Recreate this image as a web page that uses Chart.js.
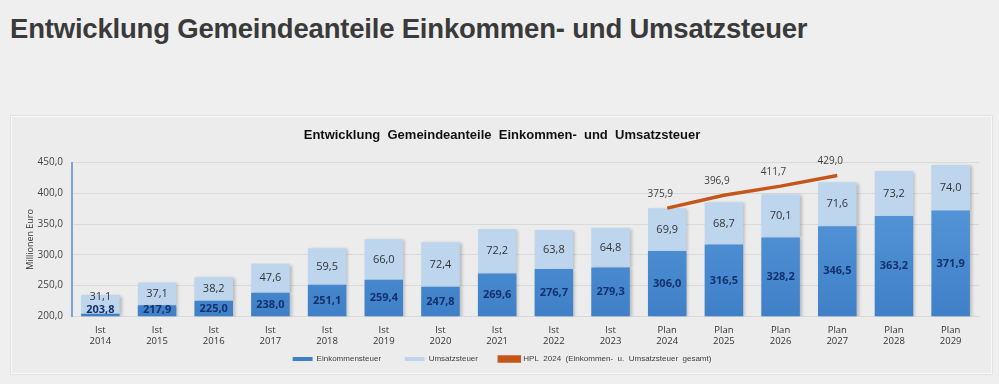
<!DOCTYPE html>
<html>
<head>
<meta charset="utf-8">
<script src="https://cdn.jsdelivr.net/npm/chart.js@4"></script>
<style>
  body { margin: 0; background: #efefef; width: 999px; height: 384px; overflow: hidden; position: relative; font-family: "Liberation Sans", Arial, sans-serif; }
  h1 { position: absolute; left: 10px; top: 13px; margin: 0; font-size: 27.5px; font-weight: bold; color: #3a3a3a; letter-spacing: -0.2px; }
  #panel { position: absolute; left: 11px; top: 116px; width: 979px; height: 256px; background: #ececec; border: 1px solid #f8f8f8; box-shadow: 0 0 0 1px #e2e2e2; }
</style>
</head>
<body>
<h1>Entwicklung Gemeindeanteile Einkommen- und Umsatzsteuer</h1>
<div id="panel"><canvas id="myChart" width="979" height="256"></canvas></div>
<script>
// Werte (Mio. Euro)
var categories = [['Ist','2014'],['Ist','2015'],['Ist','2016'],['Ist','2017'],['Ist','2018'],['Ist','2019'],['Ist','2020'],['Ist','2021'],['Ist','2022'],['Ist','2023'],['Plan','2024'],['Plan','2025'],['Plan','2026'],['Plan','2027'],['Plan','2028'],['Plan','2029']]
var einkommensteuer = [203.8,217.9,225.0,238.0,251.1,259.4,247.8,269.6,276.7,279.3,306.0,316.5,328.2,346.5,363.2,371.9]
var umsatzsteuer = [31.1,37.1,38.2,47.6,59.5,66.0,72.4,72.2,63.8,64.8,69.9,68.7,70.1,71.6,73.2,74.0]
var hpl2024 = [null,null,null,null,null,null,null,null,null,null,375.9,396.9,411.7,429.0,null,null]
var yTicks = [200,250,300,350,400,450]

function fmt(v) {
  return v.toFixed(1).replace('.', ',')
}

function blueGradient(context) {
  var area = context.chart.chartArea
  if (!area) return '#4a8bd0'
  var g = context.chart.ctx.createLinearGradient(0, area.top, 0, area.bottom)
  g.addColorStop(0, '#5b9ddc')
  g.addColorStop(1, '#3f80c8')
  return g
}

// zeichnet die Werte in/ueber die Balken und Linienpunkte
var valueLabels = {
  id: 'valueLabels',
  afterDatasetsDraw: function(chart) {
    var ctx = chart.ctx
    var area = chart.chartArea
    var lowY = []
    ctx.save()
    ctx.textAlign = 'center'
    ctx.textBaseline = 'middle'
    chart.data.datasets.forEach(function(ds, i) {
      var meta = chart.getDatasetMeta(i)
      meta.data.forEach(function(el, j) {
        var v = ds.data[j]
        if (v == null) return
        if (ds.type === 'line') {
          ctx.font = '10px "Open Sans", sans-serif'
          ctx.fillStyle = '#404040'
          ctx.fillText(fmt(v), el.x - 7, el.y - 14)
        } else {
          var bottom = Math.min(el.base, area.bottom)
          var y = (el.y + bottom) / 2
          if (i === 0) {
            ctx.font = 'bold 11px "Open Sans", sans-serif'
            ctx.fillStyle = '#14306e'
            y = Math.min(y, area.bottom - 6)
            lowY[j] = y
          } else {
            ctx.font = '11px "Open Sans", sans-serif'
            ctx.fillStyle = '#333333'
            y = Math.min(y, lowY[j] - 13)
          }
          ctx.fillText(fmt(v), el.x, y)
        }
      })
    })
    ctx.restore()
  }
}

var barShadow = {
  id: 'barShadow',
  beforeDatasetDraw: function(chart, args) {
    if (args.meta.type !== 'bar') return
    chart.ctx.save()
    chart.ctx.shadowColor = 'rgba(0,0,0,0.22)'
    chart.ctx.shadowBlur = 3
    chart.ctx.shadowOffsetX = 2
    chart.ctx.shadowOffsetY = 1
  },
  afterDatasetDraw: function(chart, args) {
    if (args.meta.type !== 'bar') return
    chart.ctx.restore()
  }
}

var ctx = document.getElementById('myChart').getContext('2d')
var chart = new Chart(ctx, {
  type: 'bar',
  data: {
    labels: categories,
    datasets: [{
      label: 'Einkommensteuer       ',
      data: einkommensteuer,
      backgroundColor: blueGradient,
      stack: 'steuer',
      order: 2,
      barPercentage: 0.68,
      categoryPercentage: 1
    }, {
      label: 'Umsatzsteuer      ',
      data: umsatzsteuer,
      backgroundColor: '#bdd6ee',
      stack: 'steuer',
      order: 2,
      barPercentage: 0.68,
      categoryPercentage: 1
    }, {
      type: 'line',
      label: 'HPL  2024  (Einkommen-  u.  Umsatzsteuer  gesamt)',
      data: hpl2024,
      borderColor: '#c5561a',
      backgroundColor: '#c5561a',
      borderWidth: 3.5,
      pointRadius: 0,
      tension: 0,
      stack: 'hpl',
      order: 1
    }]
  },
  options: {
    responsive: false,
    animation: false,
    layout: { padding: { left: 13, right: 12, top: 0, bottom: 0 } },
    plugins: {
      title: {
        display: true,
        text: 'Entwicklung  Gemeindeanteile  Einkommen-  und  Umsatzsteuer',
        color: '#111',
        font: { family: '"Liberation Sans", Arial, sans-serif', size: 13, weight: 'bold' },
        padding: { top: 11, bottom: 19 }
      },
      legend: {
        position: 'bottom',
        labels: {
          sort: function(a, b) { return a.datasetIndex - b.datasetIndex },
          boxWidth: 20,
          boxHeight: 4,
          padding: 8,
          color: '#404040',
          font: { family: '"Liberation Sans", Arial, sans-serif', size: 8 }
        }
      },
      tooltip: { enabled: false }
    },
    scales: {
      x: {
        stacked: true,
        grid: { display: false },
        border: { color: '#d8d8d8' },
        ticks: { color: '#333', font: { family: '"Open Sans", sans-serif', size: 9.5 }, padding: 0, maxRotation: 0 }
      },
      y: {
        stacked: true,
        min: 200,
        max: 450,
        afterFit: function(scale) { scale.width = 47 },
        afterBuildTicks: function(scale) { scale.ticks = yTicks.map(function(v) { return { value: v } }) },
        grid: { color: '#d9d9d9', drawTicks: false },
        border: { color: '#7aa3d6', width: 2 },
        title: { display: true, text: 'Millionen Euro', color: '#333', font: { family: '"Open Sans", sans-serif', size: 9 }, padding: 0 },
        ticks: { color: '#444', padding: 9, font: { family: '"Open Sans", sans-serif', size: 10 }, callback: function(v) { return fmt(v) } }
      }
    }
  },
  plugins: [barShadow, valueLabels]
})
</script>
</body>
</html>
